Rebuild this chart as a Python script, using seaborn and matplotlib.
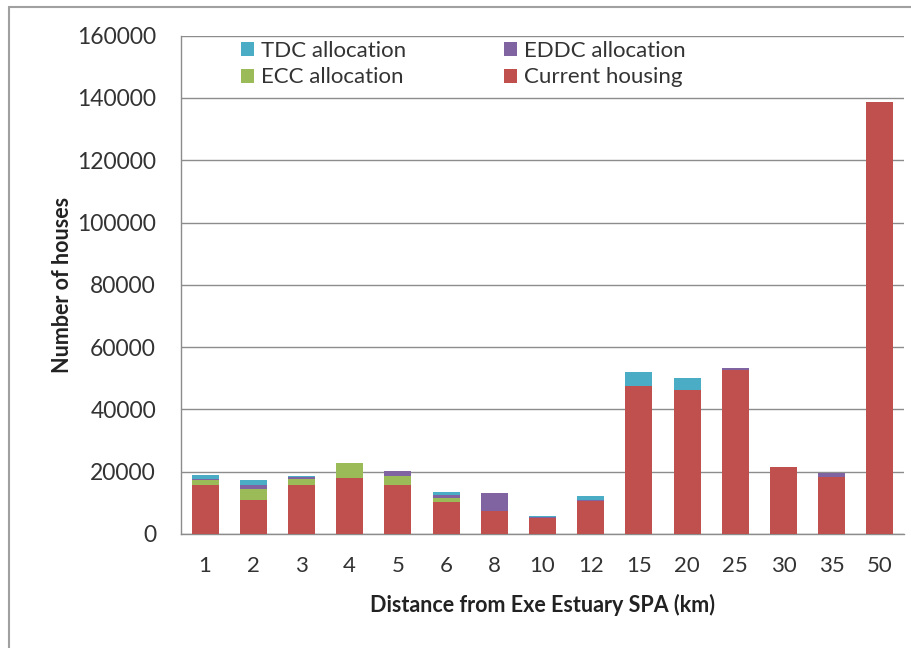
import matplotlib
matplotlib.use("Agg")
import matplotlib.pyplot as plt
import seaborn as sns
import pandas as pd
import numpy as np
from matplotlib.patches import Patch
from matplotlib.lines import Line2D

categories = ["1", "2", "3", "4", "5", "6", "8", "10", "12", "15", "20", "25", "30", "35", "50"]
current_housing = [15700, 11000, 15800, 17900, 15700, 10200, 7500, 5000, 10500, 47600, 46300, 52500, 21400, 18200, 138800]
ecc_allocation = [1500, 3400, 1800, 4800, 3000, 1400, 0, 0, 0, 0, 0, 0, 0, 0, 0]
eddc_allocation = [500, 1300, 800, 0, 1400, 1000, 5600, 600, 300, 0, 0, 700, 0, 1300, 0]
tdc_allocation = [1200, 1600, 300, 0, 0, 1000, 0, 300, 1500, 4400, 3900, 0, 0, 0, 0]

colors = {"TDC allocation": "#4BACC6", "EDDC allocation": "#8064A2",
          "ECC allocation": "#9BBB59", "Current housing": "#C0504D"}

df = pd.DataFrame({"distance": categories, "Current housing": current_housing,
                   "ECC allocation": ecc_allocation, "EDDC allocation": eddc_allocation,
                   "TDC allocation": tdc_allocation})
df["c1"] = df["Current housing"]
df["c2"] = df["c1"] + df["ECC allocation"]
df["c3"] = df["c2"] + df["EDDC allocation"]
df["c4"] = df["c3"] + df["TDC allocation"]

sns.set_style("white")
plt.rcParams["font.family"] = ["Lato", "DejaVu Sans"]

fig = plt.figure(figsize=(9.11, 6.48), dpi=100)
ax = fig.add_axes([181/911, 1 - 534/648, (904-181)/911, (534-35.7)/648])

bw = 0.56
for col, name in [("c4", "TDC allocation"), ("c3", "EDDC allocation"),
                  ("c2", "ECC allocation"), ("c1", "Current housing")]:
    sns.barplot(data=df, x="distance", y=col, order=categories, color=colors[name],
                width=bw, saturation=1, ax=ax, zorder=3, linewidth=0)

ax.set_ylim(0, 160000)
ax.set_xlim(-0.5, len(categories) - 0.5)
ax.set_yticks(np.arange(0, 160001, 20000))
ax.yaxis.grid(True, color="#8c8c8c", linewidth=1.0, zorder=0)
ax.set_axisbelow(True)

for s in ["top", "right"]:
    ax.spines[s].set_visible(False)
for s in ["left", "bottom"]:
    ax.spines[s].set_color("#8c8c8c")
    ax.spines[s].set_linewidth(1.0)

ax.set_xticks(np.arange(-0.5, len(categories), 1.0), minor=True)
ax.tick_params(axis="x", which="minor", length=6, width=1, color="#8c8c8c", direction="out")
ax.tick_params(axis="x", which="major", length=0, pad=16, labelsize=16, labelcolor="#333333")
ax.tick_params(axis="y", which="major", length=9, width=1, color="#8c8c8c", direction="out",
               pad=9, labelsize=16.5, labelcolor="#333333")
ax.set_xticks(range(len(categories)))
ax.set_xticklabels(categories)

ax.set_xlabel("Distance from Exe Estuary SPA (km)", fontsize=15.5, fontweight="bold",
              labelpad=13, color="#222222")
ax.set_ylabel("Number of houses", fontsize=15.5, fontweight="bold", labelpad=3, color="#222222")

handles = [Patch(facecolor=colors[n], edgecolor="none") for n in
           ["TDC allocation", "ECC allocation", "EDDC allocation", "Current housing"]]
labels = ["TDC allocation", "ECC allocation", "EDDC allocation", "Current housing"]
leg = ax.legend(handles, labels, ncol=2, loc="upper left", bbox_to_anchor=(0.055, 1.03),
                frameon=False, fontsize=16, handlelength=0.6, handleheight=0.6,
                handletextpad=0.3, columnspacing=4.4, labelspacing=0.3)
for t in leg.get_texts():
    t.set_color("#333333")

fig.add_artist(Line2D([9/911, 1.0], [1 - 7/648, 1 - 7/648], transform=fig.transFigure,
                      color="#a0a0a0", linewidth=1.5))
fig.add_artist(Line2D([9/911, 9/911], [0.0, 1 - 7/648], transform=fig.transFigure,
                      color="#a0a0a0", linewidth=1.5))

fig.savefig("out.png", dpi=100)
